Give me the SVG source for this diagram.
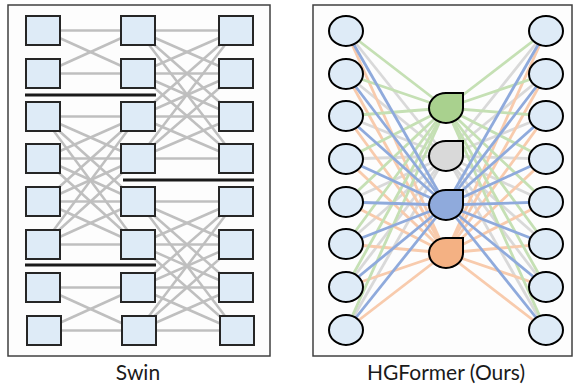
<svg xmlns="http://www.w3.org/2000/svg" width="575" height="386" viewBox="0 0 575 386">
<style>
.panel{fill:#fdfdfd;stroke:#404040;stroke-width:1.5}
.sq{fill:#deebf7;stroke:#262626;stroke-width:2}
.nd{fill:#deebf7;stroke:#000;stroke-width:2}
.he{stroke:#000;stroke-width:2}
.g line{stroke:#bfbfbf;stroke-width:2.5}
.sep{stroke:#1a1a1a;stroke-width:3}
.lab{font-family:Lato,"Open Sans",sans-serif;font-size:21px;fill:#1a1a1a;text-anchor:middle}
.cg line{stroke:#d9d9d9;stroke-width:2.8}
.co line{stroke:#f8cbad;stroke-width:2.8}
.cgr line{stroke:#c5e0b4;stroke-width:2.8}
.cb line{stroke:#8faadc;stroke-width:2.8}
</style>
<rect width="575" height="386" fill="#fff"/>
<rect class="panel" x="8" y="5" width="262" height="351"/>
<rect class="panel" x="313" y="5" width="259" height="351"/>
<g id="swin-connectors" class="g">
<line x1="43" y1="30.5" x2="138" y2="30.5"/><line x1="43" y1="30.5" x2="138" y2="73.5"/><line x1="43" y1="73.5" x2="138" y2="30.5"/><line x1="43" y1="73.5" x2="138" y2="73.5"/>
<line x1="43" y1="116.5" x2="138" y2="116.5"/><line x1="43" y1="116.5" x2="138" y2="158.5"/><line x1="43" y1="116.5" x2="138" y2="201.5"/><line x1="43" y1="116.5" x2="138" y2="244.5"/>
<line x1="43" y1="158.5" x2="138" y2="116.5"/><line x1="43" y1="158.5" x2="138" y2="158.5"/><line x1="43" y1="158.5" x2="138" y2="201.5"/><line x1="43" y1="158.5" x2="138" y2="244.5"/>
<line x1="43" y1="201.5" x2="138" y2="116.5"/><line x1="43" y1="201.5" x2="138" y2="158.5"/><line x1="43" y1="201.5" x2="138" y2="201.5"/><line x1="43" y1="201.5" x2="138" y2="244.5"/>
<line x1="43" y1="244.5" x2="138" y2="116.5"/><line x1="43" y1="244.5" x2="138" y2="158.5"/><line x1="43" y1="244.5" x2="138" y2="201.5"/><line x1="43" y1="244.5" x2="138" y2="244.5"/>
<line x1="43" y1="287.5" x2="138" y2="287.5"/><line x1="43" y1="287.5" x2="138" y2="330.5"/><line x1="43" y1="330.5" x2="138" y2="287.5"/><line x1="43" y1="330.5" x2="138" y2="330.5"/>
<line x1="138" y1="30.5" x2="236" y2="30.5"/><line x1="138" y1="30.5" x2="236" y2="73.5"/><line x1="138" y1="30.5" x2="236" y2="116.5"/><line x1="138" y1="30.5" x2="236" y2="158.5"/>
<line x1="138" y1="73.5" x2="236" y2="30.5"/><line x1="138" y1="73.5" x2="236" y2="73.5"/><line x1="138" y1="73.5" x2="236" y2="116.5"/><line x1="138" y1="73.5" x2="236" y2="158.5"/>
<line x1="138" y1="116.5" x2="236" y2="30.5"/><line x1="138" y1="116.5" x2="236" y2="73.5"/><line x1="138" y1="116.5" x2="236" y2="116.5"/><line x1="138" y1="116.5" x2="236" y2="158.5"/>
<line x1="138" y1="158.5" x2="236" y2="30.5"/><line x1="138" y1="158.5" x2="236" y2="73.5"/><line x1="138" y1="158.5" x2="236" y2="116.5"/><line x1="138" y1="158.5" x2="236" y2="158.5"/>
<line x1="138" y1="201.5" x2="236" y2="201.5"/><line x1="138" y1="201.5" x2="236" y2="244.5"/><line x1="138" y1="201.5" x2="236" y2="287.5"/><line x1="138" y1="201.5" x2="236" y2="330.5"/>
<line x1="138" y1="244.5" x2="236" y2="201.5"/><line x1="138" y1="244.5" x2="236" y2="244.5"/><line x1="138" y1="244.5" x2="236" y2="287.5"/><line x1="138" y1="244.5" x2="236" y2="330.5"/>
<line x1="138" y1="287.5" x2="236" y2="201.5"/><line x1="138" y1="287.5" x2="236" y2="244.5"/><line x1="138" y1="287.5" x2="236" y2="287.5"/><line x1="138" y1="287.5" x2="236" y2="330.5"/>
<line x1="138" y1="330.5" x2="236" y2="201.5"/><line x1="138" y1="330.5" x2="236" y2="244.5"/><line x1="138" y1="330.5" x2="236" y2="287.5"/><line x1="138" y1="330.5" x2="236" y2="330.5"/>
</g>
<g id="swin-separators">
<line class="sep" x1="25" y1="95" x2="156" y2="95"/>
<line class="sep" x1="123" y1="180" x2="254" y2="180"/>
<line class="sep" x1="25" y1="265" x2="156" y2="265"/>
</g>
<g id="swin-nodes">
<g id="s1-1"><rect class="sq" x="26" y="16" width="34" height="29"/></g>
<g id="s1-2"><rect class="sq" x="26" y="59" width="34" height="29"/></g>
<g id="s1-3"><rect class="sq" x="26" y="102" width="34" height="29"/></g>
<g id="s1-4"><rect class="sq" x="26" y="144" width="34" height="29"/></g>
<g id="s1-5"><rect class="sq" x="26" y="187" width="34" height="29"/></g>
<g id="s1-6"><rect class="sq" x="26" y="230" width="34" height="29"/></g>
<g id="s1-7"><rect class="sq" x="26" y="273" width="34" height="29"/></g>
<g id="s1-8"><rect class="sq" x="27" y="316" width="34" height="29"/></g>
<g id="s2-1"><rect class="sq" x="121" y="16" width="34" height="29"/></g>
<g id="s2-2"><rect class="sq" x="121" y="59" width="34" height="29"/></g>
<g id="s2-3"><rect class="sq" x="121" y="102" width="34" height="29"/></g>
<g id="s2-4"><rect class="sq" x="121" y="144" width="34" height="29"/></g>
<g id="s2-5"><rect class="sq" x="121" y="187" width="34" height="29"/></g>
<g id="s2-6"><rect class="sq" x="121" y="230" width="34" height="29"/></g>
<g id="s2-7"><rect class="sq" x="121" y="273" width="34" height="29"/></g>
<g id="s2-8"><rect class="sq" x="122" y="316" width="34" height="29"/></g>
<g id="s3-1"><rect class="sq" x="219" y="16" width="34" height="29"/></g>
<g id="s3-2"><rect class="sq" x="219" y="59" width="34" height="29"/></g>
<g id="s3-3"><rect class="sq" x="219" y="102" width="34" height="29"/></g>
<g id="s3-4"><rect class="sq" x="219" y="144" width="34" height="29"/></g>
<g id="s3-5"><rect class="sq" x="219" y="187" width="34" height="29"/></g>
<g id="s3-6"><rect class="sq" x="219" y="230" width="34" height="29"/></g>
<g id="s3-7"><rect class="sq" x="219" y="273" width="34" height="29"/></g>
<g id="s3-8"><rect class="sq" x="220" y="316" width="34" height="29"/></g>
</g>
<g id="hg-connectors">
<g class="cg">
<line x1="346" y1="31" x2="446" y2="156"/><line x1="346" y1="74" x2="446" y2="156"/><line x1="346" y1="116" x2="446" y2="156"/><line x1="346" y1="159" x2="446" y2="156"/><line x1="346" y1="202" x2="446" y2="156"/><line x1="346" y1="244" x2="446" y2="156"/><line x1="346" y1="287" x2="446" y2="156"/><line x1="346" y1="330" x2="446" y2="156"/>
<line x1="546" y1="31" x2="446" y2="156"/><line x1="546" y1="74" x2="446" y2="156"/><line x1="546" y1="116" x2="446" y2="156"/><line x1="546" y1="159" x2="446" y2="156"/><line x1="546" y1="202" x2="446" y2="156"/><line x1="546" y1="244" x2="446" y2="156"/><line x1="546" y1="287" x2="446" y2="156"/><line x1="546" y1="330" x2="446" y2="156"/>
</g>
<g class="co">
<line x1="346" y1="31" x2="446" y2="253"/><line x1="346" y1="74" x2="446" y2="253"/><line x1="346" y1="116" x2="446" y2="253"/><line x1="346" y1="159" x2="446" y2="253"/><line x1="346" y1="202" x2="446" y2="253"/><line x1="346" y1="244" x2="446" y2="253"/><line x1="346" y1="287" x2="446" y2="253"/><line x1="346" y1="330" x2="446" y2="253"/>
<line x1="546" y1="31" x2="446" y2="253"/><line x1="546" y1="74" x2="446" y2="253"/><line x1="546" y1="116" x2="446" y2="253"/><line x1="546" y1="159" x2="446" y2="253"/><line x1="546" y1="202" x2="446" y2="253"/><line x1="546" y1="244" x2="446" y2="253"/><line x1="546" y1="287" x2="446" y2="253"/><line x1="546" y1="330" x2="446" y2="253"/>
</g>
<g class="cgr">
<line x1="346" y1="31" x2="446" y2="108"/><line x1="346" y1="74" x2="446" y2="108"/><line x1="346" y1="116" x2="446" y2="108"/><line x1="346" y1="159" x2="446" y2="108"/><line x1="346" y1="202" x2="446" y2="108"/><line x1="346" y1="244" x2="446" y2="108"/><line x1="346" y1="287" x2="446" y2="108"/><line x1="346" y1="330" x2="446" y2="108"/>
<line x1="546" y1="31" x2="446" y2="108"/><line x1="546" y1="74" x2="446" y2="108"/><line x1="546" y1="116" x2="446" y2="108"/><line x1="546" y1="159" x2="446" y2="108"/><line x1="546" y1="202" x2="446" y2="108"/><line x1="546" y1="244" x2="446" y2="108"/><line x1="546" y1="287" x2="446" y2="108"/><line x1="546" y1="330" x2="446" y2="108"/>
</g>
<g class="cb">
<line x1="346" y1="31" x2="446" y2="205"/><line x1="346" y1="74" x2="446" y2="205"/><line x1="346" y1="116" x2="446" y2="205"/><line x1="346" y1="159" x2="446" y2="205"/><line x1="346" y1="202" x2="446" y2="205"/><line x1="346" y1="244" x2="446" y2="205"/><line x1="346" y1="287" x2="446" y2="205"/><line x1="346" y1="330" x2="446" y2="205"/>
<line x1="546" y1="31" x2="446" y2="205"/><line x1="546" y1="74" x2="446" y2="205"/><line x1="546" y1="116" x2="446" y2="205"/><line x1="546" y1="159" x2="446" y2="205"/><line x1="546" y1="202" x2="446" y2="205"/><line x1="546" y1="244" x2="446" y2="205"/><line x1="546" y1="287" x2="446" y2="205"/><line x1="546" y1="330" x2="446" y2="205"/>
</g>
</g>
<g id="hg-nodes">
<g id="l1"><ellipse class="nd" cx="346" cy="31" rx="17" ry="15"/></g>
<g id="l2"><ellipse class="nd" cx="346" cy="74" rx="17" ry="15"/></g>
<g id="l3"><ellipse class="nd" cx="346" cy="116" rx="17" ry="15"/></g>
<g id="l4"><ellipse class="nd" cx="346" cy="159" rx="17" ry="15"/></g>
<g id="l5"><ellipse class="nd" cx="346" cy="202" rx="17" ry="15"/></g>
<g id="l6"><ellipse class="nd" cx="346" cy="244" rx="17" ry="15"/></g>
<g id="l7"><ellipse class="nd" cx="346" cy="287" rx="17" ry="15"/></g>
<g id="l8"><ellipse class="nd" cx="346" cy="330" rx="17" ry="15"/></g>
<g id="r1"><ellipse class="nd" cx="546" cy="31" rx="17" ry="15"/></g>
<g id="r2"><ellipse class="nd" cx="546" cy="74" rx="17" ry="15"/></g>
<g id="r3"><ellipse class="nd" cx="546" cy="116" rx="17" ry="15"/></g>
<g id="r4"><ellipse class="nd" cx="546" cy="159" rx="17" ry="15"/></g>
<g id="r5"><ellipse class="nd" cx="546" cy="202" rx="17" ry="15"/></g>
<g id="r6"><ellipse class="nd" cx="546" cy="244" rx="17" ry="15"/></g>
<g id="r7"><ellipse class="nd" cx="546" cy="287" rx="17" ry="15"/></g>
<g id="r8"><ellipse class="nd" cx="546" cy="330" rx="17" ry="15"/></g>
<g id="he-green"><path class="he" fill="#a9d18e" d="M429,108 A17,15 0 0 1 446,93 H463 V108 A17,15 0 0 1 446,123 A17,15 0 0 1 429,108 Z"/></g>
<g id="he-gray"><path class="he" fill="#d9d9d9" d="M429,156 A17,15 0 0 1 446,141 H463 V156 A17,15 0 0 1 446,171 A17,15 0 0 1 429,156 Z"/></g>
<g id="he-blue"><path class="he" fill="#8faadc" d="M429,205 A17,15 0 0 1 446,190 H463 V205 A17,15 0 0 1 446,220 A17,15 0 0 1 429,205 Z"/></g>
<g id="he-orange"><path class="he" fill="#f4b183" d="M429,253 A17,15 0 0 1 446,238 H463 V253 A17,15 0 0 1 446,268 A17,15 0 0 1 429,253 Z"/></g>
</g>
<text class="lab" x="138" y="380">Swin</text>
<text class="lab" x="446" y="380">HGFormer (Ours)</text>
</svg>
